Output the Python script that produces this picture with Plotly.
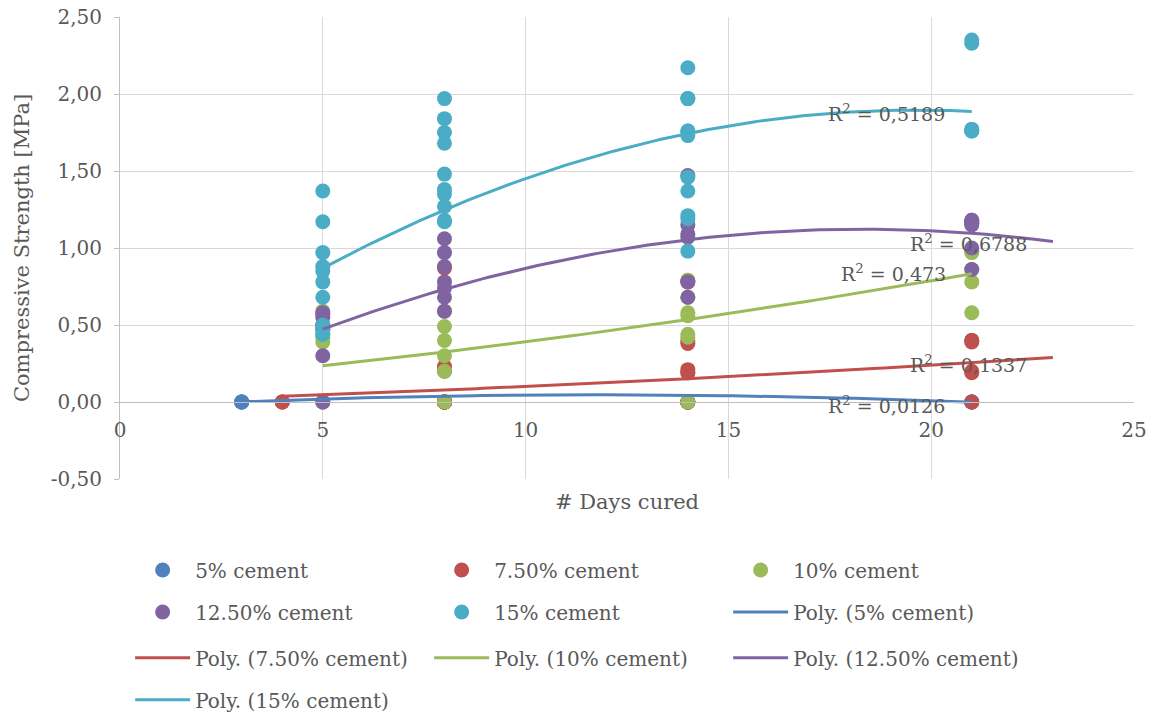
import numpy as np
import plotly.graph_objects as go

# ---------------- data ----------------
series_names = ["5% cement", "7.50% cement", "10% cement", "12.50% cement", "15% cement"]

days_5 = [3, 3, 3, 3, 5, 8, 8, 8, 8, 14, 14, 14, 14, 14, 21, 21, 21, 21]
str_5 = [0, 0, 0, 0, 0, 0, 0, 0, 0.20, 0, 0, 0, 0, 0.19, 0, 0, 0, 0]

days_75 = [4, 4, 4] + [8] * 11 + [14] * 9 + [21] * 6
str_75 = [0, 0, 0,
          0.87, 0.23, 0, 0, 0, 0, 0, 0, 0, 0, 0,
          0.40, 0.38, 0.21, 0.19, 0, 0, 0, 0, 0,
          0.40, 0.40, 0.39, 0.20, 0.19, 0]

days_10 = [5] * 6 + [8] * 6 + [14] * 8 + [21] * 5
str_10 = [0.59, 0.42, 0.39, 0, 0, 0,
          0.59, 0.49, 0.40, 0.30, 0.20, 0,
          0.79, 0.79, 0.68, 0.58, 0.56, 0.44, 0.42, 0,
          0.98, 0.97, 0.86, 0.78, 0.58]

days_125 = [5] * 8 + [8] * 7 + [14] * 7 + [21] * 8
str_125 = [0.58, 0.57, 0.55, 0.50, 0.50, 0.47, 0.30, 0,
           1.06, 0.97, 0.88, 0.78, 0.74, 0.68, 0.59,
           1.47, 1.15, 1.09, 1.07, 0.78, 0.78, 0.68,
           1.18, 1.18, 1.17, 1.16, 1.16, 1.15, 1.00, 0.86]

days_15 = [5] * 12 + [8] * 10 + [14] * 11 + [21] * 6
str_15 = [1.37, 1.17, 0.97, 0.88, 0.85, 0.78, 0.68, 0.50, 0.47, 0.47, 0.44, 0.44,
          1.97, 1.84, 1.75, 1.68, 1.48, 1.38, 1.35, 1.27, 1.18, 1.17,
          2.17, 1.97, 1.97, 1.76, 1.76, 1.73, 1.46, 1.37, 1.21, 1.19, 0.98,
          2.35, 2.33, 1.77, 1.77, 1.76, 1.76]

r2_labels = ["R<sup>2</sup> = 0,0126", "R<sup>2</sup> = 0,1337", "R<sup>2</sup> = 0,473",
             "R<sup>2</sup> = 0,6788", "R<sup>2</sup> = 0,5189"]
trend_forward = [0, 2, 0, 2, 0]   # forecast forward periods of each trendline

x_ticks = [0, 5, 10, 15, 20, 25]
y_ticks = [-0.5, 0, 0.5, 1.0, 1.5, 2.0, 2.5]
y_tick_text = ["-0,50", "0,00", "0,50", "1,00", "1,50", "2,00", "2,50"]

# ---------------- styling ----------------
colors = ["#4F81BD", "#C0504D", "#9BBB59", "#8064A2", "#4BACC6"]
FONT = "DejaVu Serif"
TXT = "#595959"

all_days = [days_5, days_75, days_10, days_125, days_15]
all_str = [str_5, str_75, str_10, str_125, str_15]

fig = go.Figure()
legend_of_scatter = ["legend", "legend", "legend", "legend2", "legend2"]
legend_of_line = ["legend2", "legend3", "legend3", "legend3", "legend4"]

for i in range(5):
    fig.add_trace(go.Scatter(
        x=all_days[i], y=all_str[i], mode="markers", name=series_names[i],
        marker=dict(color=colors[i], size=15, line=dict(width=0)),
        legend=legend_of_scatter[i]))

for i in range(5):
    xd = np.array(all_days[i], dtype=float)
    yd = np.array(all_str[i], dtype=float)
    coef = np.polyfit(xd, yd, 2)
    xs = np.linspace(xd.min(), xd.max() + trend_forward[i], 120)
    fig.add_trace(go.Scatter(
        x=xs, y=np.polyval(coef, xs), mode="lines",
        name="Poly. (" + series_names[i] + ")",
        line=dict(color=colors[i], width=3), legend=legend_of_line[i]))

# R² labels
r2_pos = [(18.91, -0.02), (20.93, 0.247), (19.08, 0.838), (20.93, 1.032), (18.91, 1.877)]
for lab, (ax, ay) in zip(r2_labels, r2_pos):
    fig.add_annotation(x=ax, y=ay, text=lab, showarrow=False,
                       font=dict(family=FONT, size=19, color=TXT))

leg_common = dict(orientation="h", x=0.01, xanchor="left", yanchor="middle",
                  entrywidth=229, entrywidthmode="pixels",
                  font=dict(family=FONT, size=20, color=TXT),
                  bgcolor="rgba(0,0,0,0)", itemwidth=55)
rows_y = [-0.197, -0.288, -0.387, -0.478]

fig.update_layout(
    width=1153, height=717,
    margin=dict(l=120, r=19, t=17, b=238, autoexpand=False),
    paper_bgcolor="white", plot_bgcolor="white",
    separators=",.",
    font=dict(family=FONT, size=20, color=TXT),
    legend=dict(y=rows_y[0], **leg_common),
    legend2=dict(y=rows_y[1], **leg_common),
    legend3=dict(y=rows_y[2], **leg_common),
    legend4=dict(y=rows_y[3], **leg_common),
    xaxis=dict(range=[0, 25], tickvals=x_ticks, showgrid=True, gridcolor="#D9D9D9",
               gridwidth=1, zeroline=False, showline=True, linecolor="#BFBFBF", linewidth=1,
               anchor="free", position=1 / 6, ticks="", ticklabelstandoff=10,
               automargin=False, ticklabeloverflow="allow",
               tickfont=dict(family=FONT, size=20, color=TXT),
               title=dict(text="# Days cured", font=dict(family=FONT, size=21, color=TXT),
                          standoff=53)),
    yaxis=dict(range=[-0.5, 2.5], tickvals=y_ticks, ticktext=y_tick_text, showgrid=True,
               gridcolor="#D9D9D9", gridwidth=1, zeroline=False, showline=True,
               linecolor="#BFBFBF", linewidth=1, ticks="outside", ticklen=5,
               tickcolor="#BFBFBF", ticklabelstandoff=8, automargin=False,
               ticklabeloverflow="allow",
               tickfont=dict(family=FONT, size=20, color=TXT),
               title=dict(text="Compressive Strength [MPa]",
                          font=dict(family=FONT, size=21, color=TXT), standoff=15)),
)

# remove the browser's default 8px body margin so the figure sits at the page origin
fig.write_html("out.html", config={"displayModeBar": False},
               post_script="document.body.style.margin='0';")
